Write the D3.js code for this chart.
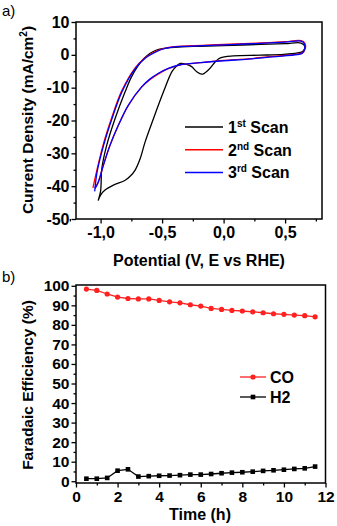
<!DOCTYPE html>
<html>
<head>
<meta charset="utf-8">
<script src="https://cdn.jsdelivr.net/npm/d3@7"></script>
<style>
  body { margin: 0; background: #fff; }
  svg { font-family: Arial, "Liberation Sans", sans-serif; }
  .tick text { font-weight: bold; }
</style>
</head>
<body>
<svg id="chart" width="337" height="526"></svg>
<script>
// panel a) cyclic voltammetry, [potential V, current mA/cm2]
const scan1 = [
  [-1.02, -44.4], [-1.0, -41.5], [-0.99, -34.6], [-0.95, -27.5], [-0.882, -19.4],
  [-0.80, -11.2], [-0.75, -6.8], [-0.70, -3.6], [-0.65, -1.2], [-0.60, 0.4],
  [-0.55, 1.4], [-0.50, 1.9], [-0.40, 2.3], [-0.20, 2.6], [0.0, 2.8],
  [0.30, 3.2], [0.50, 3.4], [0.63, 3.6], [0.66, 2.6], [0.645, 1.1],
  [0.60, 0.6], [0.49, 0.15], [0.30, -0.1], [0.08, -0.3], [-0.026, -0.9],
  [-0.067, -2.1], [-0.124, -4.6], [-0.176, -5.9], [-0.22, -5.1], [-0.26, -3.6],
  [-0.30, -2.9], [-0.352, -2.6], [-0.38, -3.3], [-0.42, -5.1], [-0.488, -11.2],
  [-0.57, -19.4], [-0.638, -26.5], [-0.678, -31.6], [-0.719, -35.1], [-0.76, -37.0],
  [-0.80, -38.2], [-0.896, -39.7], [-0.964, -41.2], [-1.0, -42.7], [-1.02, -44.4]
]
const scan2 = [
  [-1.062, -40.5], [-1.033, -35.6], [-0.98, -27.5], [-0.912, -19.4], [-0.831, -11.2],
  [-0.722, -4.1], [-0.64, -1.0], [-0.585, 0.4], [-0.50, 1.8], [-0.40, 2.5],
  [-0.30, 2.7], [-0.10, 3.0], [0.10, 3.3], [0.30, 3.6], [0.50, 4.0],
  [0.63, 4.3], [0.66, 3.6], [0.665, 2.0], [0.64, 0.6], [0.60, 0.2],
  [0.40, -0.5], [0.20, -1.2], [0.0, -1.7], [-0.19, -2.4], [-0.36, -3.1],
  [-0.45, -4.2], [-0.53, -5.8], [-0.60, -7.6], [-0.668, -9.9], [-0.776, -15.5],
  [-0.857, -21.6], [-0.925, -27.7], [-0.979, -33.8], [-1.02, -38.8], [-1.047, -40.6]
]
const scan3 = [
  [-1.048, -41.6], [-1.028, -35.6], [-0.975, -27.5], [-0.907, -19.4], [-0.826, -11.2],
  [-0.717, -4.1], [-0.635, -1.0], [-0.58, 0.3], [-0.50, 1.7], [-0.40, 2.4],
  [-0.30, 2.6], [-0.10, 2.9], [0.10, 3.2], [0.30, 3.5], [0.50, 3.9],
  [0.63, 4.2], [0.655, 3.5], [0.66, 1.9], [0.64, 0.5], [0.60, 0.1],
  [0.40, -0.6], [0.20, -1.3], [0.0, -1.8], [-0.19, -2.4], [-0.36, -3.1],
  [-0.45, -4.1], [-0.53, -5.6], [-0.60, -7.4], [-0.665, -9.7], [-0.774, -15.3],
  [-0.855, -21.4], [-0.923, -27.5], [-0.977, -33.6], [-1.018, -38.7], [-1.045, -40.8]
]
const cvSeries = [
  { label: '1', sup: 'st', color: '#000000', data: scan1 },
  { label: '2', sup: 'nd', color: '#ff0000', data: scan2 },
  { label: '3', sup: 'rd', color: '#0000ff', data: scan3 }
]

// panel b) faradaic efficiency vs time
const hours = [0.5, 1, 1.5, 2, 2.5, 3, 3.5, 4, 4.5, 5, 5.5, 6, 6.5, 7, 7.5, 8,
  8.5, 9, 9.5, 10, 10.5, 11, 11.5]
const feCO = [98.3, 97.6, 95.8, 94.2, 93.5, 93.3, 93.3, 92.5, 91.8, 91.3, 90.3,
  89.6, 88.4, 87.9, 87.4, 87.1, 86.7, 86.2, 85.7, 85.4, 85.0, 84.7, 84.1]
const feH2 = [1.3, 1.3, 1.7, 5.4, 6.1, 2.4, 2.6, 2.8, 2.9, 3.1, 3.4, 3.4, 3.7,
  4.1, 4.4, 4.6, 4.9, 5.3, 5.6, 5.9, 6.3, 6.6, 7.5]

const cvTicksX = [-1.0, -0.5, 0.0, 0.5]
const cvTicksY = [10, 0, -10, -20, -30, -40, -50]
const feTicksX = [0, 2, 4, 6, 8, 10, 12]
const feTicksY = [0, 10, 20, 30, 40, 50, 60, 70, 80, 90, 100]

const svg = d3.select('#chart')
const comma = d => d3.format('.1f')(d).replace('.', ',').replace('−', '-')

/**
 * Draws a framed axis box with outward major and minor ticks.
 */
function drawFrame (g, x, y, xTicks, yTicks, xMinor, yMinor, xFmt, yFmt, fontSize) {
  const [x0, x1] = x.range()
  const [y0, y1] = y.range()

  const xAxis = g.append('g')
    .attr('transform', `translate(0,${y0})`)
    .call(d3.axisBottom(x).tickValues(xMinor).tickSize(2.5).tickFormat(''))
  xAxis.select('.domain').remove()
  const xMaj = g.append('g')
    .attr('transform', `translate(0,${y0})`)
    .call(d3.axisBottom(x).tickValues(xTicks).tickSize(4.5).tickPadding(3).tickFormat(xFmt))
  xMaj.select('.domain').remove()

  const yAxis = g.append('g')
    .attr('transform', `translate(${x0},0)`)
    .call(d3.axisLeft(y).tickValues(yMinor).tickSize(2.5).tickFormat(''))
  yAxis.select('.domain').remove()
  const yMaj = g.append('g')
    .attr('transform', `translate(${x0},0)`)
    .call(d3.axisLeft(y).tickValues(yTicks).tickSize(4.5).tickPadding(2).tickFormat(yFmt))
  yMaj.select('.domain').remove()

  g.selectAll('.tick line').attr('stroke-width', 1.3)
  g.selectAll('.tick text').style('font-size', fontSize + 'px').attr('fill', '#000')

  g.append('rect')
    .attr('x', x0).attr('y', y1)
    .attr('width', x1 - x0).attr('height', y0 - y1)
    .attr('fill', 'none').attr('stroke', '#000').attr('stroke-width', 1.5)
}

// ---- panel a
const xa = d3.scaleLinear().domain([-1.2, 0.8]).range([76, 322])
const ya = d3.scaleLinear().domain([-50, 10]).range([219, 22])
const ga = svg.append('g')

const lineA = d3.line().x(d => xa(d[0])).y(d => ya(d[1])).curve(d3.curveCatmullRom)
ga.selectAll('.cv')
  .data(cvSeries)
  .enter()
  .append('path')
  .attr('class', 'cv')
  .attr('d', d => lineA(d.data))
  .attr('fill', 'none')
  .attr('stroke', d => d.color)
  .attr('stroke-width', 1.3)

drawFrame(ga, xa, ya, cvTicksX, cvTicksY,
  [-1.25, -0.75, -0.25, 0.25, 0.75], [5, -5, -15, -25, -35, -45],
  comma, d => d3.format('d')(d).replace('−', '-'), 16)

// legend a
const legA = ga.selectAll('.leg').data(cvSeries).enter().append('g')
  .attr('transform', (d, i) => `translate(185,${127 + i * 22.7})`)
legA.append('line').attr('x1', 0).attr('x2', 38).attr('y1', 0).attr('y2', 0)
  .attr('stroke', d => d.color).attr('stroke-width', 1.5)
const legText = legA.append('text').attr('x', 43).attr('y', 6)
  .style('font-size', '16px').style('font-weight', 'bold')
legText.append('tspan').text(d => d.label)
legText.append('tspan').attr('dy', -6).style('font-size', '10px').text(d => d.sup)
legText.append('tspan').attr('dy', 6).text(' Scan')

ga.append('text').attr('x', 2).attr('y', 16).style('font-size', '15px').text('a)')
ga.append('text')
  .attr('transform', 'translate(33,120) rotate(-90)')
  .attr('text-anchor', 'middle')
  .style('font-size', '15.5px').style('font-weight', 'bold')
  .call(t => {
    t.append('tspan').text('Current Density (mA/cm')
    t.append('tspan').attr('dy', -6).style('font-size', '10px').text('2')
    t.append('tspan').attr('dy', 6).text(')')
  })
ga.append('text').attr('x', 199).attr('y', 266)
  .attr('text-anchor', 'middle')
  .style('font-size', '16px').style('font-weight', 'bold')
  .text('Potential (V, E vs RHE)')

// ---- panel b
const xb = d3.scaleLinear().domain([0, 12]).range([76, 325.5])
const yb = d3.scaleLinear().domain([-0.9, 100.4]).range([483, 285])
const gb = svg.append('g')

const lineB = d3.line().x(d => xb(d[0])).y(d => yb(d[1]))
const coPts = hours.map((h, i) => [h, feCO[i]])
const h2Pts = hours.map((h, i) => [h, feH2[i]])

gb.append('path').attr('d', lineB(coPts))
  .attr('fill', 'none').attr('stroke', '#ff2020').attr('stroke-width', 1.3)
gb.selectAll('.co').data(coPts).enter().append('circle')
  .attr('class', 'co')
  .attr('cx', d => xb(d[0])).attr('cy', d => yb(d[1])).attr('r', 2.6)
  .attr('fill', '#ff2020')

gb.append('path').attr('d', lineB(h2Pts))
  .attr('fill', 'none').attr('stroke', '#000').attr('stroke-width', 1.3)
gb.selectAll('.h2').data(h2Pts).enter().append('rect')
  .attr('class', 'h2')
  .attr('x', d => xb(d[0]) - 2.3).attr('y', d => yb(d[1]) - 2.3)
  .attr('width', 4.6).attr('height', 4.6)
  .attr('fill', '#000')

drawFrame(gb, xb, yb, feTicksX, feTicksY,
  [1, 3, 5, 7, 9, 11], [5, 15, 25, 35, 45, 55, 65, 75, 85, 95],
  d3.format('d'), d3.format('d'), 15.5)

// legend b
const legB = [
  { name: 'CO', color: '#ff2020', shape: 'circle', y: 377 },
  { name: 'H2', color: '#000', shape: 'square', y: 397 }
]
const lb = gb.selectAll('.legb').data(legB).enter().append('g')
  .attr('transform', d => `translate(240,${d.y})`)
lb.append('line').attr('x1', 0).attr('x2', 26)
  .attr('stroke', d => d.color).attr('stroke-width', 1.3)
lb.filter(d => d.shape === 'circle').append('circle')
  .attr('cx', 13).attr('r', 2.6).attr('fill', d => d.color)
lb.filter(d => d.shape === 'square').append('rect')
  .attr('x', 10.7).attr('y', -2.3).attr('width', 4.6).attr('height', 4.6).attr('fill', d => d.color)
lb.append('text').attr('x', 30).attr('y', 6)
  .style('font-size', '16px').style('font-weight', 'bold')
  .text(d => d.name)

gb.append('text').attr('x', 2).attr('y', 282).style('font-size', '15px').text('b)')
gb.append('text')
  .attr('transform', 'translate(33,385) rotate(-90)')
  .attr('text-anchor', 'middle')
  .style('font-size', '15.5px').style('font-weight', 'bold')
  .text('Faradaic Efficiency (%)')
gb.append('text').attr('x', 200).attr('y', 520)
  .attr('text-anchor', 'middle')
  .style('font-size', '16px').style('font-weight', 'bold')
  .text('Time (h)')
</script>
</body>
</html>
